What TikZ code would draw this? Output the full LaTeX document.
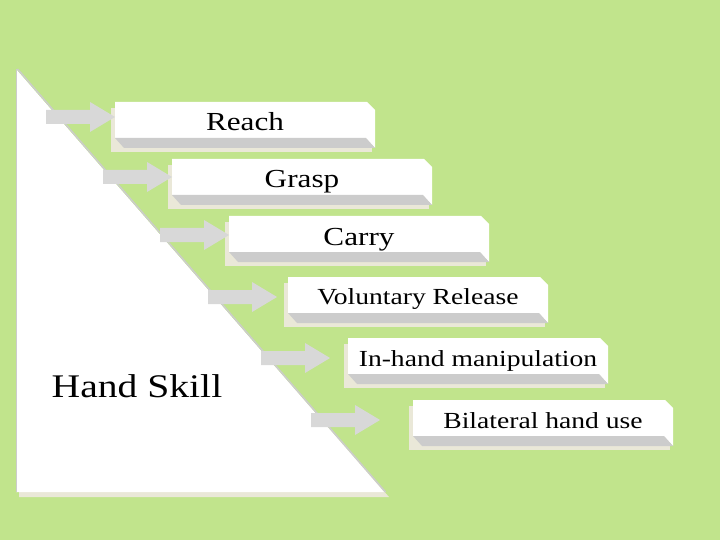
\documentclass[tikz,border=0pt]{standalone}
\usepackage{fontspec}
\setmainfont{Liberation Serif}[FakeStretch=1.2]
\usetikzlibrary{calc}
\definecolor{bggreen}{RGB}{193,228,140}
\definecolor{beige}{RGB}{234,232,216}
\definecolor{band}{RGB}{204,204,204}
\definecolor{arrgray}{RGB}{216,216,216}
\def\boxw{260}
\tikzset{arr/.style={fill=arrgray}}
\tikzset{face/.style={fill=white}}
\tikzset{bevel/.style={fill=band}}
\tikzset{shade/.style={fill=beige}}
\tikzset{big/.style={font=\fontsize{26}{30}\selectfont, anchor=base, inner sep=0pt}}
\tikzset{small/.style={font=\fontsize{23}{27}\selectfont, anchor=base, inner sep=0pt}}
% one bevelled box: name, left, top, style, baseline offset, text
\newcommand{\stepbox}[6]{%
  \fill[shade] (#2-4,#3+6) rectangle (#2+\boxw-3,#3+50);
  \fill[face] (#2,#3) -- (#2+\boxw-8,#3) -- (#2+\boxw,#3+8) -- (#2+\boxw,#3+46)
    -- (#2+\boxw-9,#3+36) -- (#2,#3+36) -- cycle;
  \fill[bevel] (#2,#3+36) -- (#2+\boxw-9,#3+36) -- (#2+\boxw,#3+46) -- (#2+9,#3+46) -- cycle;
  \node[#4] (#1) at (#2+\boxw/2,#3+#5) {#6};
}

\begin{document}
\begin{tikzpicture}[x=1pt,y=-1pt]
  \fill[bggreen] (0,0) rectangle (720,540);
  \useasboundingbox (0,0) rectangle (720,540);
  % Triangle
  \fill[shade] (19,74) -- (19,497) -- (389,497) -- cycle;
  \fill[white] (16,69) -- (16,492) -- (384,492) -- cycle;
  \draw[band, line width=1pt] (16,69) -- (16,492);
  \draw[band, line width=1.5pt] (17.5,69) -- (385.5,492);
  \node[font=\fontsize{33}{38}\selectfont] (skill) at (137,386) {Hand Skill};
  % Steps
  \stepbox{reach}{115}{102}{big}{29}{Reach}
  \stepbox{grasp}{172}{159}{big}{29}{Grasp}
  \stepbox{carry}{229}{216}{big}{29}{Carry}
  \stepbox{release}{288}{277}{small}{27}{Voluntary Release}
  \stepbox{inhand}{348}{338}{small}{28}{In-hand manipulation}
  \stepbox{bilateral}{413}{400}{small}{28}{Bilateral hand use}
  % Arrows
  \foreach \x/\y in {115/117, 172/177, 229/235, 277/297, 330/358, 380/420} {
    \fill[arr] (\x,\y) -- ++(-25,-15) -- ++(0,8) -- ++(-44,0) -- ++(0,14)
      -- ++(44,0) -- ++(0,8) -- cycle;
  }
\end{tikzpicture}
\end{document}
